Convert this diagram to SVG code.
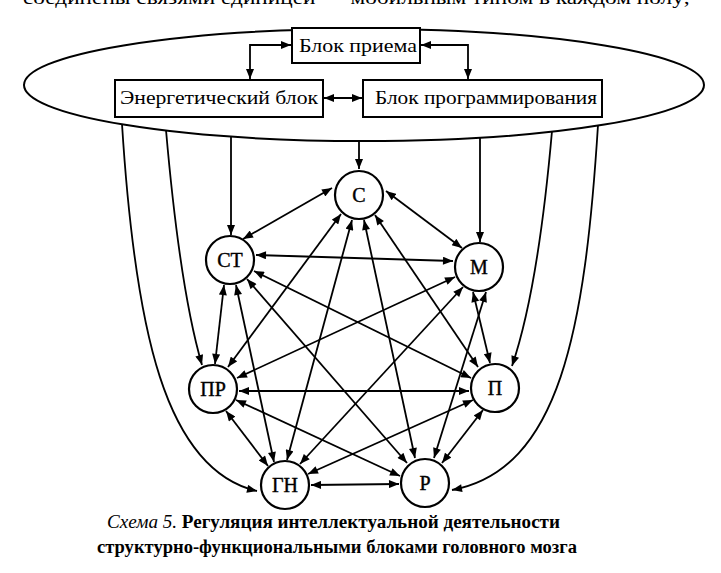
<svg xmlns="http://www.w3.org/2000/svg" width="721" height="573" viewBox="0 0 721 573">
<style>
.ln{fill:none;stroke:#000;stroke-width:1.8}
.bi{marker-start:url(#ah);marker-end:url(#ah)}
.one{marker-end:url(#ah)}
.nd{fill:#fff;stroke:#000;stroke-width:2.2}
.lb{font-family:"Liberation Serif","Times New Roman",serif;font-size:20px;text-anchor:middle;fill:#000;stroke:#000;stroke-width:0.4}
.bx{fill:#fff;stroke:#000;stroke-width:2}
.bt{font-family:"Liberation Serif","Times New Roman",serif;font-size:19px;fill:#000}
.cap{font-family:"Liberation Serif","Times New Roman",serif;font-size:18px;fill:#000}
</style>
<defs>
<marker id="ah" viewBox="0 0 10 8" refX="10" refY="4" markerWidth="11" markerHeight="8" markerUnits="userSpaceOnUse" orient="auto-start-reverse">
<path d="M0,0 L10,4 L0,8 z" fill="#000"/>
</marker>
</defs>
<rect width="721" height="573" fill="#fff"/>
<text class="bt" x="23" y="4" textLength="667" lengthAdjust="spacingAndGlyphs">соединены связями единицей — мобильным типом в каждом полу;</text>

<g id="brain-ellipse">
<ellipse cx="364" cy="85" rx="340" ry="56" fill="none" stroke="#000" stroke-width="2"/>
</g>

<g id="block-priema">
<rect class="bx" x="292" y="28" width="128" height="35"/>
<text class="bt" x="299" y="52" textLength="118" lengthAdjust="spacingAndGlyphs">Блок приема</text>
</g>
<g id="block-energy">
<rect class="bx" x="115" y="80" width="208" height="37"/>
<text class="bt" x="120" y="104" textLength="198" lengthAdjust="spacingAndGlyphs">Энергетический блок</text>
</g>
<g id="block-program">
<rect class="bx" x="363" y="80" width="239" height="37"/>
<text class="bt" x="375" y="104" textLength="222" lengthAdjust="spacingAndGlyphs">Блок программирования</text>
</g>

<g id="connectors">
<path class="ln bi" d="M291,45 H250 V79"/>
<path class="ln bi" d="M421,45 H468 V79"/>
<path class="ln bi" d="M324,98 H362"/>

<path class="ln one" d="M122,124 C135,330 165,470 257,491"/>
<path class="ln one" d="M166,130 Q180,290 202,365"/>
<path class="ln one" d="M231,136 V235"/>
<path class="ln one" d="M359,141 V169"/>
<path class="ln one" d="M480,137 V242"/>
<path class="ln one" d="M552,131 Q538,290 512,366"/>
<path class="ln one" d="M598,125 C585,330 560,470 452,490"/>

<path class="ln bi" d="M332,188 L243,239"/>
<path class="ln bi" d="M386,191 L462,248"/>
<path class="ln bi" d="M341,214 L228,367"/>
<path class="ln bi" d="M352,220 L287,460"/>
<path class="ln bi" d="M364,220 L415,458"/>
<path class="ln bi" d="M375,215 L478,367"/>
<path class="ln bi" d="M256,255 L453,261"/>
<path class="ln bi" d="M254,271 L471,378"/>
<path class="ln bi" d="M247,279 L407,463"/>
<path class="ln bi" d="M224,285 L215,364"/>
<path class="ln bi" d="M236,285 L274,462"/>
<path class="ln bi" d="M455,277 L237,378"/>
<path class="ln bi" d="M463,287 L300,464"/>
<path class="ln bi" d="M473,292 L490,363"/>
<path class="ln bi" d="M486,292 L434,458"/>
<path class="ln bi" d="M239,391 L469,391"/>
<path class="ln bi" d="M236,400 L400,476"/>
<path class="ln bi" d="M226,411 L268,466"/>
<path class="ln bi" d="M473,400 L308,474"/>
<path class="ln bi" d="M483,410 L442,463"/>
<path class="ln bi" d="M311,485 L399,484"/>
</g>

<g id="node-S"><circle class="nd" cx="359" cy="195" r="24"/><text class="lb" x="359" y="202">С</text></g>
<g id="node-ST"><circle class="nd" cx="230" cy="260" r="24"/><text class="lb" x="230" y="267">СТ</text></g>
<g id="node-M"><circle class="nd" cx="479" cy="267" r="24"/><text class="lb" x="479" y="274">М</text></g>
<g id="node-PR"><circle class="nd" cx="213" cy="389" r="24"/><text class="lb" x="213" y="396">ПР</text></g>
<g id="node-P"><circle class="nd" cx="495" cy="388" r="24"/><text class="lb" x="495" y="395">П</text></g>
<g id="node-GN"><circle class="nd" cx="285" cy="485" r="24"/><text class="lb" x="285" y="492">ГН</text></g>
<g id="node-R"><circle class="nd" cx="425" cy="483" r="24"/><text class="lb" x="425" y="490">Р</text></g>

<g id="caption">
<text class="cap" x="107" y="528" textLength="453" lengthAdjust="spacingAndGlyphs"><tspan font-style="italic">Схема 5.</tspan><tspan font-weight="bold"> Регуляция интеллектуальной деятельности</tspan></text>
<text class="cap" x="97" y="553" font-weight="bold" textLength="480" lengthAdjust="spacingAndGlyphs">структурно-функциональными блоками головного мозга</text>
</g>
</svg>
